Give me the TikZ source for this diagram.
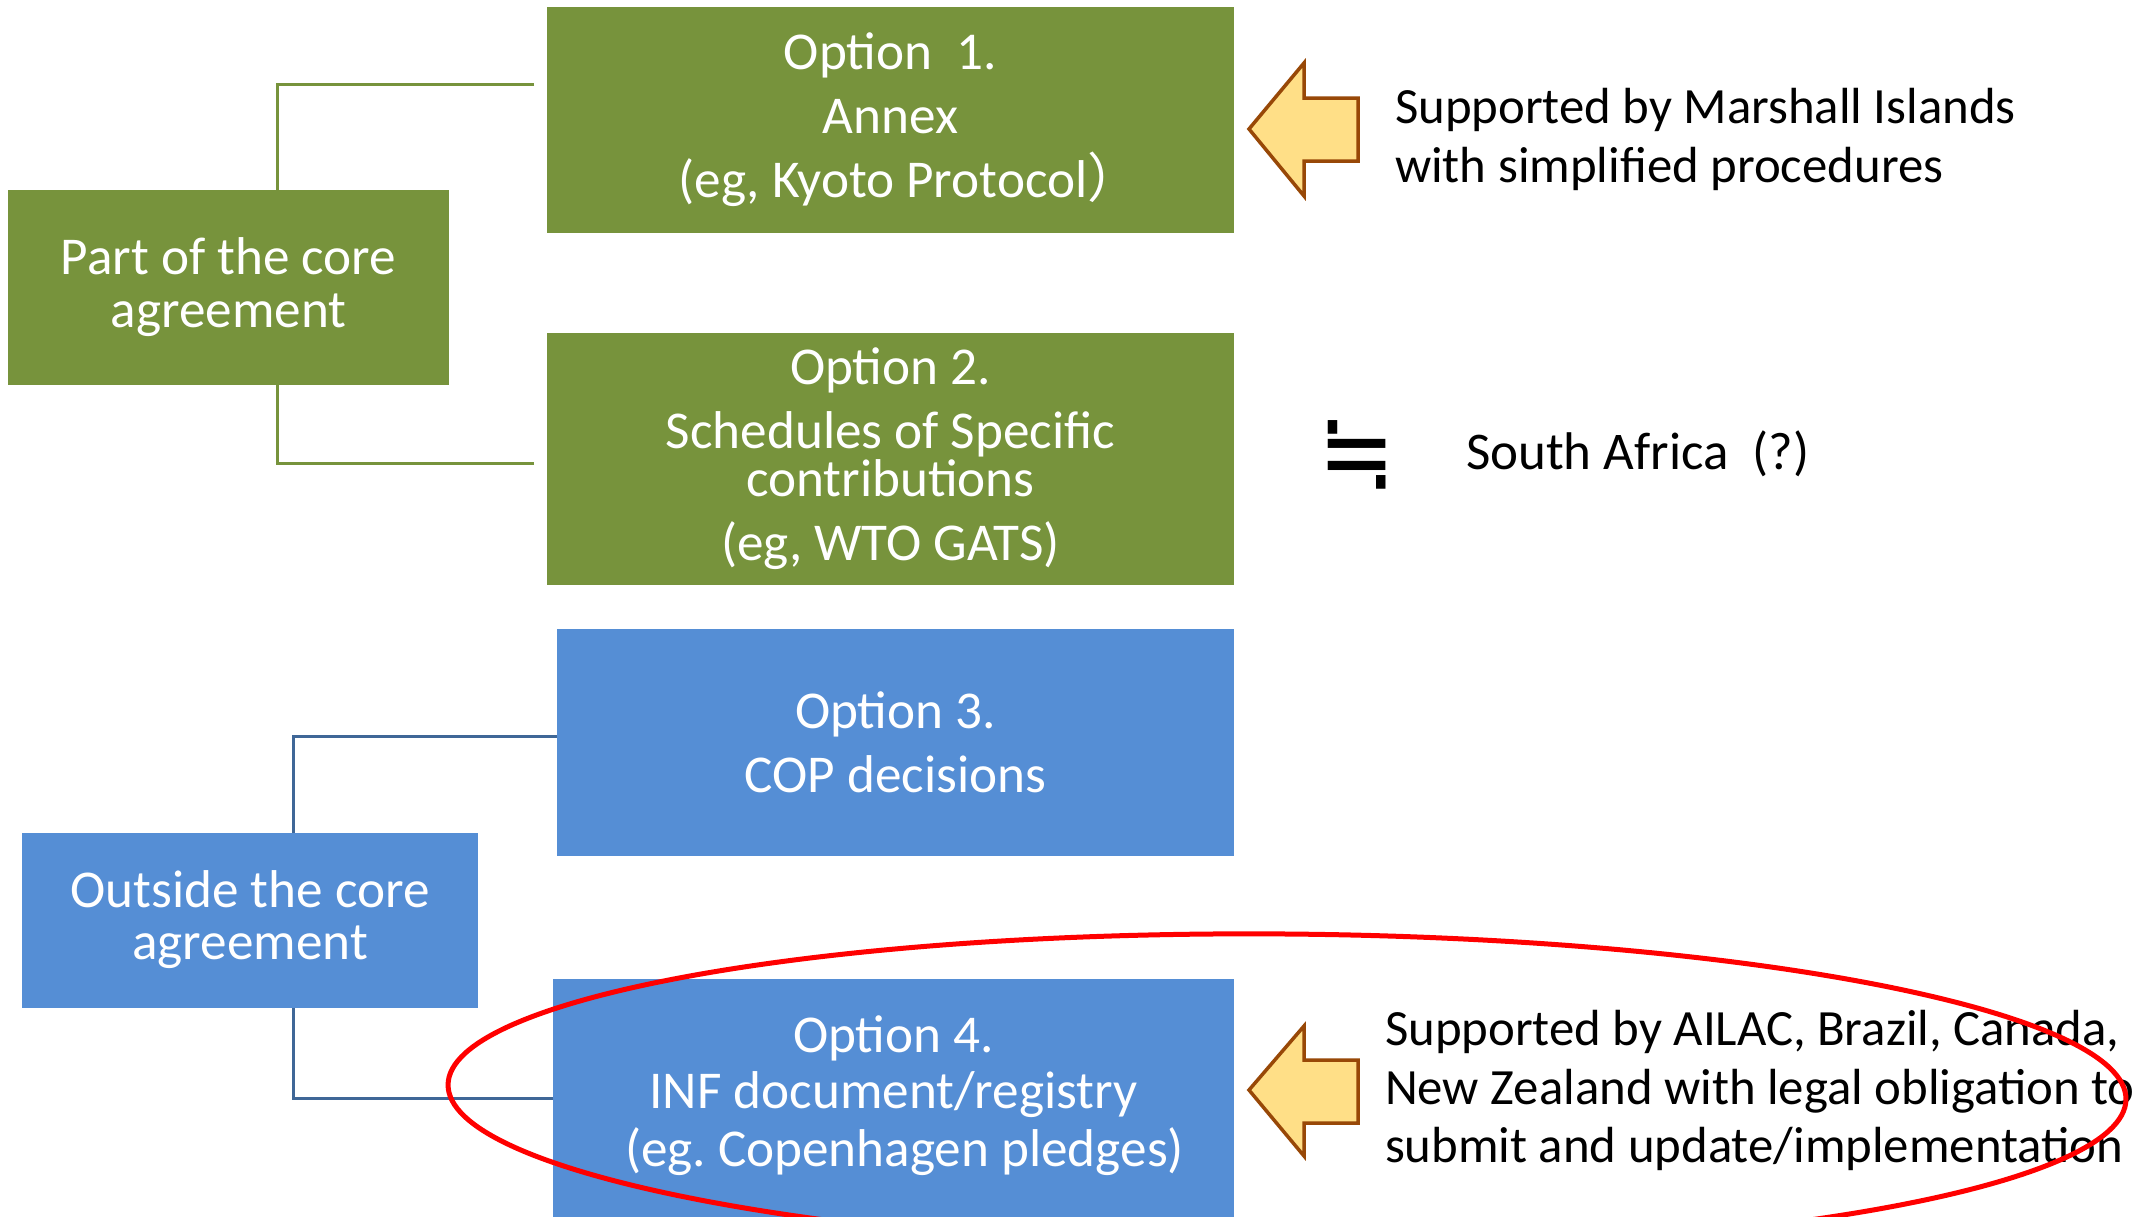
\documentclass[tikz,border=0pt]{standalone}
\usepackage{fontspec}
\setmainfont{Carlito}
\newfontfamily\symfont{DejaVu Sans}
\newfontfamily\cjkfont{Noto Sans CJK SC}
\usetikzlibrary{calc}
\definecolor{gfill}{HTML}{77933C}
\definecolor{bfill}{HTML}{558ED5}
\definecolor{bline}{HTML}{3F6797}
\definecolor{afill}{HTML}{FFDF87}
\definecolor{aline}{HTML}{984807}
\frenchspacing
\begin{document}
\begin{tikzpicture}[x=0.5pt,y=-0.5pt,
  box/.style={inner sep=0pt, outer sep=0pt, text=white, align=center, font=\fontsize{26.6}{24}\selectfont},
  gbox/.style={box, fill=gfill},
  bbox/.style={box, fill=bfill},
  gconn/.style={draw=gfill, line width=1.5pt},
  bconn/.style={draw=bline, line width=1.5pt},
  callout/.style={fill=afill, draw=aline, line width=1.75pt, line join=miter},
  side/.style={inner sep=0pt, outer sep=0pt, align=left, anchor=west, font=\fontsize{25.4}{29.3}\selectfont}]
\clip (0,0) rectangle (2134,1216);
\fill[white] (0,0) rectangle (2134,1216);

% connector end points
\coordinate (gx) at (277,0);
\coordinate (g1) at (534,84);
\coordinate (g2) at (534,463);
\coordinate (bx) at (293,0);
\coordinate (b1) at (557,736);
\coordinate (b2) at (553,1098);

% boxes
\node[gbox, minimum width=343.5pt, minimum height=113pt] (o1) at (890.5,120)
  {Option\ \ 1.\\[8pt]Annex\\[8pt]\hspace*{19pt}(eg, Kyoto Protocol{\cjkfont ）}};
\node[gbox, minimum width=343.5pt, minimum height=126pt] (o2) at (890.5,459)
  {Option 2.\\[8pt]Schedules of Specific\\contributions\\[8pt](eg, WTO GATS)};
\node[gbox, minimum width=220.5pt, minimum height=97.5pt] (pc) at (228.5,287.5)
  {Part of the core\\[2.5pt]agreement};
\node[bbox, minimum width=338.5pt, minimum height=113.5pt] (o3) at (895.5,742.5)
  {Option 3.\\[8pt]COP decisions};
\node[bbox, minimum width=228pt, minimum height=87.5pt] (oc) at (250,920)
  {Outside the core\\[2pt]agreement};
\node[bbox, minimum width=340.5pt, minimum height=117pt] (o4) at (893.5,1096)
  {Option 4.\\[4pt]INF document/registry\\[4pt]\hspace*{11pt}(eg. Copenhagen pledges)};
\fill[bfill] (o4.south west) rectangle ($(o4.south east)+(0,40)$);

\draw[gconn] (g1) -| (pc.north -| gx);
\draw[gconn] (g2) -| (pc.south -| gx);
\draw[bconn] (b1) -| (oc.north -| bx);
\draw[bconn] (b2) -| (oc.south -| bx);

% callout arrows
\draw[callout] (1249,129) -- (1304,63) -- (1304,98) -- (1358,98) -- (1358,161)
  -- (1304,161) -- (1304,196) -- cycle;
\draw[callout] (1249,1090) -- (1304,1026) -- (1304,1060) -- (1358,1060) -- (1358,1123)
  -- (1304,1123) -- (1304,1156) -- cycle;

% side texts
\node[side] (s1) at (1395,139.5) {Supported by Marshall Islands\\with simplified procedures};
\node[inner sep=0pt, font=\symfont\fontsize{46}{46}\selectfont] (eq) at (1357,455) {\scalebox{1}[1.2]{≒}};
\node[side, font=\fontsize{26.5}{30}\selectfont] (sa) at (1466,454) {South Africa\ \ (?)};
\node[side] (s2) at (1385,1090.5) {Supported by AILAC, Brazil, Canada,\\New Zealand with legal obligation to\\submit and update/implementation};

% highlight ellipse
\draw[red, line width=2.5pt, rotate around={-0.5:(1287,1092)}] (1287,1092) ellipse [x radius=419.5pt, y radius=79pt];
\end{tikzpicture}
\end{document}
